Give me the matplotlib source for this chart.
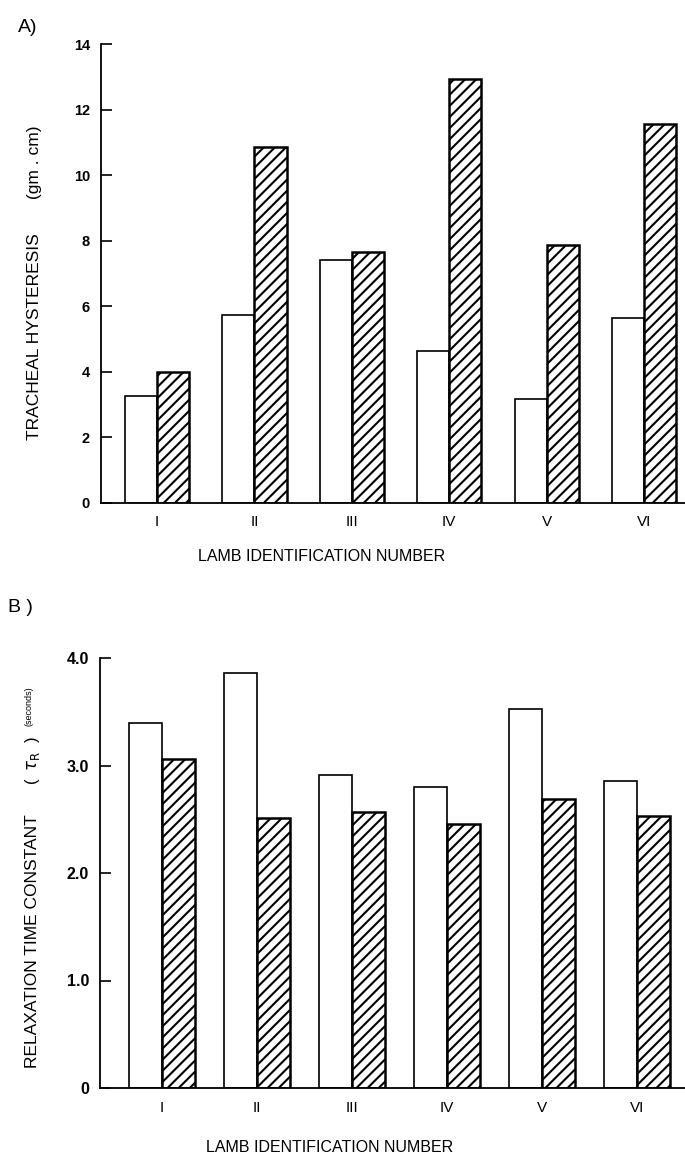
import numpy as np
import matplotlib
matplotlib.use("Agg")
from matplotlib import pyplot as plt

plt.rcParams['font.family'] = ['Liberation Sans', 'DejaVu Sans']
plt.rcParams['hatch.linewidth'] = 1.5
plt.rcParams['mathtext.fontset'] = 'dejavusans'

lambs = ["I", "II", "III", "IV", "V", "VI"]

hyst_open = [3.27, 5.72, 7.4, 4.65, 3.18, 5.65]
hyst_hatched = [3.99, 10.86, 7.66, 12.92, 7.88, 11.57]
hyst_ticks = [0, 2, 4, 6, 8, 10, 12, 14]

relax_open = [3.40, 3.86, 2.91, 2.80, 3.53, 2.86]
relax_hatched = [3.06, 2.51, 2.57, 2.46, 2.69, 2.53]
relax_ticks = [0, 1.0, 2.0, 3.0, 4.0]
relax_ticklabels = ["0", "1.0", "2.0", "3.0", "4.0"]

W, H = 685, 1154
fig = plt.figure(figsize=(W / 100, H / 100), dpi=100)


def px_axes(left, right, top, bottom):
    # pixel box -> figure fraction
    return [left / W, 1 - bottom / H, (right - left) / W, (bottom - top) / H]


def style_axes(ax):
    ax.spines['top'].set_visible(False)
    ax.spines['right'].set_visible(False)
    ax.spines['left'].set_linewidth(1.3)
    ax.spines['bottom'].set_linewidth(1.3)
    ax.tick_params(axis='y', direction='in', length=8, width=1.2, pad=8)
    ax.tick_params(axis='x', length=0, pad=9)
    for lbl in ax.get_xticklabels():
        lbl.set_fontsize(11)


def bars(ax, openv, hatchv, width):
    x = np.arange(len(lambs))
    ax.bar(x - width / 2, openv, width, color='white', edgecolor='black',
           linewidth=1.2)
    ax.bar(x + width / 2, hatchv, width, color='white', edgecolor='black',
           hatch='///', linewidth=1.8)
    ax.set_xticks(x)
    ax.set_xticklabels(lambs)


# ---- panel A ----
axA = fig.add_axes(px_axes(101, 685, 44, 503))
bars(axA, hyst_open, hyst_hatched, 0.33)
axA.set_xlim(-0.575, 5.42)
axA.set_ylim(0, 14)
axA.set_yticks(hyst_ticks)
axA.set_yticklabels([str(t) for t in hyst_ticks], fontsize=10.5,
                    fontweight='bold')
style_axes(axA)

fig.text(18 / W, 1 - 27 / H, "A)", fontsize=14, ha='left', va='center')
fig.text(35 / W, 1 - 283 / H, "TRACHEAL HYSTERESIS       (gm . cm)",
         rotation=90, ha='center', va='center', fontsize=12.5)
fig.text(322 / W, 1 - 557 / H, "LAMB IDENTIFICATION NUMBER",
         ha='center', va='center', fontsize=11.5)

# ---- panel B ----
axB = fig.add_axes(px_axes(100, 685, 658, 1088))
bars(axB, relax_open, relax_hatched, 0.35)
axB.set_xlim(-0.653, 5.505)
axB.set_ylim(0, 4.0)
axB.set_yticks(relax_ticks)
axB.set_yticklabels(relax_ticklabels, fontsize=11.5, fontweight='bold')
style_axes(axB)

fig.text(8 / W, 1 - 607 / H, "B )", fontsize=14, ha='left', va='center')
fig.text(33 / W, 1 - 941 / H, "RELAXATION TIME CONSTANT",
         rotation=90, ha='center', va='center', fontsize=12.5)
fig.text(33 / W, 1 - 760 / H, r"(  $\tau_{\mathrm{R}}$  )",
         rotation=90, ha='center', va='center', fontsize=12)
fig.text(29 / W, 1 - 706 / H, "(seconds)",
         rotation=90, ha='center', va='center', fontsize=6.5)
fig.text(330 / W, 1 - 1147 / H, "LAMB IDENTIFICATION NUMBER",
         ha='center', va='center', fontsize=11.5)

fig.savefig("out.png", dpi=100)
